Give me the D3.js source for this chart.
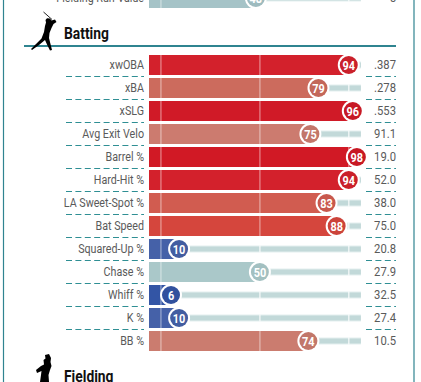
<!DOCTYPE html>
<html><head><meta charset="utf-8">
<script src="https://cdn.jsdelivr.net/npm/d3@7"></script>
<style>html,body{margin:0;padding:0;background:#fff;overflow:hidden}svg{display:block}text{font-family:Roboto,sans-serif}</style>
</head><body><div id="c"></div>
<script>
const categories = ["xwOBA","xBA","xSLG","Avg Exit Velo","Barrel %","Hard-Hit %","LA Sweet-Spot %","Bat Speed","Squared-Up %","Chase %","Whiff %","K %","BB %"];
const percentiles = [94,79,96,75,98,94,83,88,10,50,6,10,74];
const statValues = [".387",".278",".553","91.1","19.0","52.0","38.0","75.0","20.8","27.9","32.5","27.4","10.5"];
const topCategory = ["Fielding Run Value"];
const topPercentile = [48];
const topValue = ["5"];
const tickPercentiles = [1,50,94];
const colorStops = [6,10,50,74,75,79,83,88,94,96,98];
const colorRange = ["#3355a5","#4561a8","#aac8c9","#cb7c6f","#cc7b6f","#cc6b5d","#d15c50","#d5463d","#d3212c","#d01a27","#d11925"];

const W=421,H=382,TEAL="#2f8490",DASH="#2f8f94";
const svg=d3.select("#c").append("svg").attr("width",W).attr("height",H);
const x=d3.scaleLinear().domain([0,100]).range([158.9,360.9]);
const y=d3.scaleBand().domain(categories).range([55,351]).paddingInner(3/23);
const color=d3.scaleLinear().domain(colorStops).range(colorRange).clamp(true);
const BAR0=149, h=y.bandwidth();

function cond(sel,xp,yp,k){return sel.attr("transform",d=>`translate(${xp(d)},${yp(d)}) scale(${k},1)`);}

svg.append("line").attr("x1",3.5).attr("x2",3.5).attr("y1",0).attr("y2",H).attr("stroke",TEAL).attr("stroke-width",1.2);
svg.append("line").attr("x1",414).attr("x2",414).attr("y1",0).attr("y2",H).attr("stroke",TEAL).attr("stroke-width",1.2);

function drawRows(rows){
  const g=svg.append("g");
  const row=g.selectAll("g").data(rows).join("g");
  row.append("rect").attr("x",BAR0).attr("width",x(100)-BAR0).attr("y",d=>d.y+h/2-3.5).attr("height",7).attr("fill","#e4efef");
  row.append("rect").attr("x",BAR0).attr("width",x(100)-BAR0).attr("y",d=>d.y+h/2-2.5).attr("height",5).attr("fill","#c2d9d9");
  row.selectAll(".tg").data(d=>tickPercentiles.map(t=>({t,d}))).join("rect").attr("class","tg")
    .attr("x",e=>x(e.t)-.75).attr("width",1.5).attr("y",e=>e.d.y+h/2-3.5).attr("height",7).attr("fill","#fff").attr("opacity",.7);
  row.append("rect").attr("x",BAR0).attr("width",d=>x(d.p)-BAR0).attr("y",d=>d.y).attr("height",h).attr("fill",d=>color(d.p));
  row.selectAll(".tb").data(d=>tickPercentiles.filter(t=>t<d.p).map(t=>({t,d}))).join("rect").attr("class","tb")
    .attr("x",e=>x(e.t)-.75).attr("width",1.5).attr("y",e=>e.d.y).attr("height",h).attr("fill","#fff").attr("opacity",.38);
  row.append("circle").attr("cx",d=>x(d.p)).attr("cy",d=>d.y+h/2).attr("r",11).attr("fill","#fff");
  row.append("circle").attr("cx",d=>x(d.p)).attr("cy",d=>d.y+h/2).attr("r",9).attr("fill",d=>d3.color(color(d.p)).darker(.12));
  cond(row.append("text").text(d=>d.p),d=>x(d.p),d=>d.y+h/2+4.6,.84).attr("text-anchor","middle").attr("font-size",13).attr("font-weight",700).attr("fill","#fff");
  cond(row.append("text").text(d=>d.c),()=>144,d=>d.y+14,.8).attr("text-anchor","end").attr("font-size",13.4).attr("fill","#5a5a5a");
  cond(row.append("text").text(d=>d.v),()=>396,d=>d.y+14,.84).attr("text-anchor","end").attr("font-size",13.4).attr("fill","#5a5a5a");
}
drawRows(categories.map((c,i)=>({c,p:percentiles[i],v:statValues[i],y:y(c)})));
drawRows(topCategory.map((c,i)=>({c,p:topPercentile[i],v:topValue[i],y:8-h})));

const sep=svg.append("g").selectAll("g").data(categories.slice(0,-1)).join("g");
[[66,144],[366,396]].forEach(([a,b])=>{
  sep.append("line").attr("x1",a).attr("x2",b).attr("y1",d=>y(d)+h+1.5).attr("y2",d=>y(d)+h+1.5)
   .attr("stroke",DASH).attr("stroke-width",1).attr("stroke-dasharray","6 3.4");
});

svg.append("line").attr("x1",24).attr("x2",396).attr("y1",46).attr("y2",46).attr("stroke",TEAL).attr("stroke-width",2);
svg.selectAll(".h").data([["Batting",39],["Fielding",381.5]]).join("text").attr("class","h")
  .text(d=>d[0]).attr("transform",d=>`translate(64,${d[1]}) scale(.84,1)`).attr("font-size",16.5).attr("font-weight",700).attr("fill","#111");

svg.append("path").attr("fill","#000").attr("d","M31 49L36 44L41.5 38.5L44 32L45 26L46 22.5L45.5 20L47 18.3L50 18.5L51.5 20.5L55 19.5L56.5 22L53.5 24L51.5 28L49.5 33L49 38L50.5 44L52 50L50 50.5L47 44.5L45 40L39 45L32 50Z");
svg.append("line").attr("x1",43.5).attr("y1",12).attr("x2",52).attr("y2",19.5).attr("stroke","#222").attr("stroke-width",1);
svg.append("path").attr("fill","#000").attr("d","M45 355L49 354L51 358L50.5 362L51.5 366L50 370L48.5 375L49 382L40 382L41 375L41.5 371L37 373L36 370L41 366L44 364.5L43.5 360L45.5 358.5Z");
</script></body></html>
